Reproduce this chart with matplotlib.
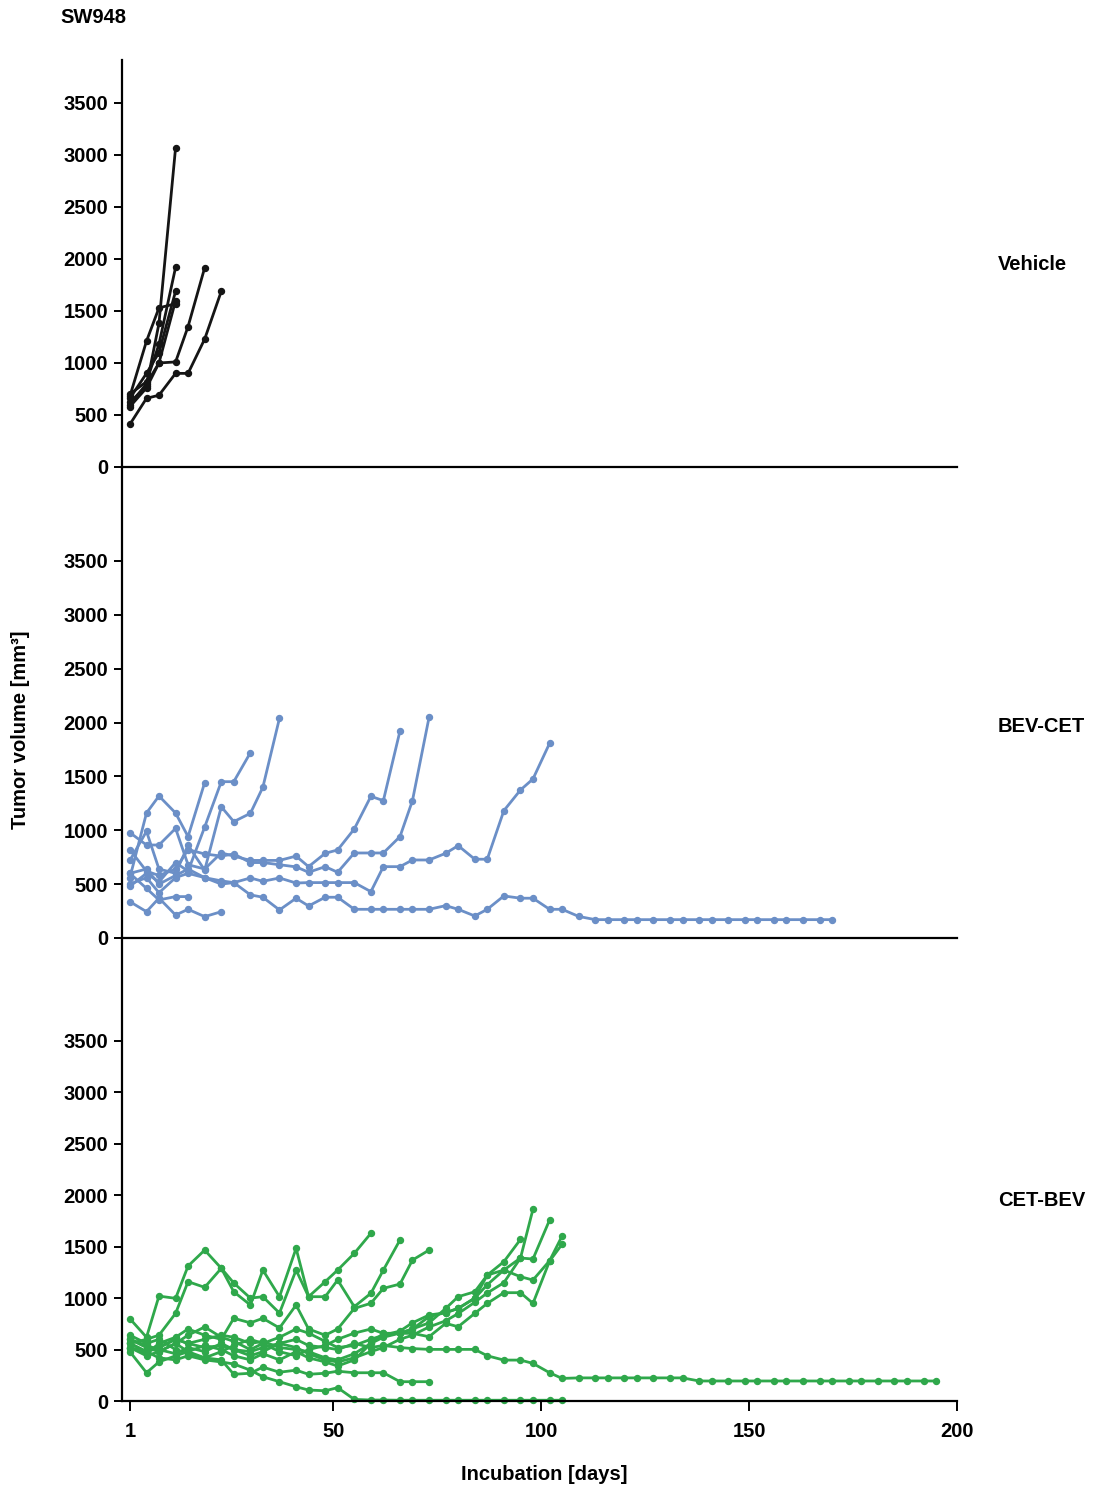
import matplotlib
matplotlib.use("Agg")
import matplotlib.pyplot as plt

plt.rcParams['font.family'] = ['Liberation Sans', 'DejaVu Sans']
plt.rcParams['font.weight'] = 'bold'

# sampling days (measurements roughly twice a week)
days = [1, 5, 8, 12, 15, 19, 23, 26, 30, 33, 37, 41, 44, 48, 51, 55, 59, 62, 66, 69,
        73, 77, 80, 84, 87, 91, 95, 98, 102, 105, 109, 113, 116, 120, 123, 127, 131, 134,
        138, 141, 145, 149, 152, 156, 159, 163, 167, 170, 174, 177, 181, 185, 188, 192, 195]

x_ticks = [1, 50, 100, 150, 200]
y_ticks = [0, 500, 1000, 1500, 2000, 2500, 3000, 3500]
panel_names = ["Vehicle", "BEV-CET", "CET-BEV"]

# Vehicle group
vehicle = [
    [620, 780, 1380, 3070],
    [680, 1210, 1530, 1570],
    [700, 820, 1180, 1920],
    [660, 900, 1100, 1690],
    [580, 760, 1000, 1600],
    [600, 800, 1000, 1010, 1350, 1916],
    [410, 660, 690, 900, 900, 1230, 1690],
]

# BEV-CET group
bev_cet = [
    [560, 1160, 1318, 1160, 941, 1442],
    [480, 600, 520, 700, 620, 1030, 1451, 1451, 1720],
    [720, 990, 640, 600, 860, 630, 1218, 1080, 1157, 1399, 2040],
    [978, 863, 863, 1017, 680, 640, 790, 760, 720, 720, 720, 760, 662, 786, 817, 1012,
     1315, 1275, 1922],
    [820, 620, 580, 640, 820, 780, 760, 780, 700, 700, 680, 660, 610, 662, 610, 789, 789,
     789, 941, 1275, 2049],
    [600, 640, 500, 580, 640, 560, 500, 514, 557, 526, 557, 510, 514, 514, 514, 514, 430,
     662, 662, 724, 724, 786, 857, 731, 731, 1182, 1374, 1476, 1807],
    [500, 560, 420, 560, 600, 560, 530, 514, 400, 378, 260, 369, 297, 378, 378, 266, 266,
     266, 266, 266, 266, 300, 266, 204, 266, 390, 369, 369, 266, 266, 200, 170, 170, 170,
     170, 170, 170, 170, 170, 170, 170, 170, 170, 170, 170, 170, 170, 170],
    [337, 244, 370, 213, 266, 198, 244],
    [600, 460, 353, 384, 384],
]

# CET-BEV group
cet_bev = [
    [800, 620, 1020, 998, 1312, 1467, 1290, 1062, 933, 1273, 1014, 1484, 1014, 1160, 1273,
     1435, 1630],
    [560, 600, 640, 852, 1160, 1105, 1290, 1147, 1000, 1014, 855, 1273, 1014, 1014, 1176,
     917, 1047, 1273, 1565],
    [520, 460, 560, 620, 700, 640, 600, 804, 760, 804, 710, 933, 700, 640, 700, 900, 950,
     1095, 1137, 1370, 1467],
    [560, 480, 520, 600, 560, 600, 640, 620, 560, 580, 520, 500, 480, 420, 400, 460, 560,
     620, 660, 700, 820, 860, 900, 1000, 1130, 1273, 1390, 1863],
    [600, 540, 500, 460, 520, 480, 560, 500, 440, 480, 560, 520, 460, 400, 380, 420, 480,
     520, 600, 640, 720, 780, 850, 960, 1050, 1150, 1390, 1380, 1759],
    [520, 440, 480, 560, 640, 720, 620, 580, 500, 560, 620, 700, 660, 580, 520, 540, 600,
     640, 680, 760, 836, 858, 900, 1000, 1224, 1273, 1208, 1176, 1363, 1603],
    [480, 275, 380, 440, 480, 540, 500, 440, 400, 460, 400, 480, 420, 380, 340, 400, 560,
     658, 658, 658, 625, 755, 722, 852, 949, 1053, 1053, 949, 1360, 1523],
    [640, 560, 600, 500, 460, 420, 480, 540, 600, 560, 480, 440, 500, 540, 600, 660, 700,
     658, 658, 700, 760, 900, 1014, 1062, 1224, 1354, 1571],
    [560, 480, 520, 600, 560, 520, 540, 500, 480, 520, 560, 600, 540, 520, 500, 560, 520,
     540, 520, 510, 502, 502, 502, 502, 440, 398, 398, 366, 275, 220, 225, 225, 225, 225,
     225, 225, 225, 225, 195, 195, 195, 195, 195, 195, 195, 195, 195, 195, 195, 195, 195,
     195, 195, 195, 195],
    [520, 480, 420, 400, 440, 400, 380, 360, 300, 236, 188, 139, 107, 100, 130, 16, 10, 10,
     8, 8, 8, 8, 8, 8, 8, 8, 8, 8, 8, 8],
    [600, 520, 480, 560, 480, 420, 400, 260, 270, 330, 280, 300, 260, 270, 290, 275, 275,
     275, 188, 188, 188],
]

groups = [vehicle, bev_cet, cet_bev]
colors = ["#151515", "#6b8fc7", "#2fa84b"]
y_tops = [3913, 4373, 4500]

fig = plt.figure(figsize=(10.96, 14.90), dpi=100)

# panel boxes in figure fractions
left, right = 0.1113, 0.873
bottoms = [0.6866, 0.3705, 0.0597]
tops = [0.9597, 0.6866, 0.3705]

label_y = [0.8228, 0.5121, 0.1946]
fs = 14.5

for i, (group, col) in enumerate(zip(groups, colors)):
    ax = fig.add_axes([left, bottoms[i], right - left, tops[i] - bottoms[i]])
    for vals in group:
        ax.plot(days[:len(vals)], vals, color=col, linewidth=2.0, marker='o',
                markersize=4.3, solid_joinstyle='round', clip_on=False)
    ax.set_xlim(-0.9, 200)
    ax.set_ylim(0, y_tops[i])
    ax.set_yticks(y_ticks)
    ax.set_yticklabels([str(v) for v in y_ticks], fontsize=fs, fontweight='bold')
    ax.tick_params(axis='y', direction='out', length=6, width=1.4, pad=4)
    for s in ['top', 'right']:
        ax.spines[s].set_visible(False)
    ax.spines['left'].set_linewidth(1.6)
    ax.spines['bottom'].set_linewidth(1.6)
    if i < 2:
        ax.set_xticks([])
    else:
        ax.set_xticks(x_ticks)
        ax.set_xticklabels([str(v) for v in x_ticks], fontsize=fs, fontweight='bold')
        ax.tick_params(axis='x', direction='out', length=7, width=1.4, pad=8)
    ax.patch.set_alpha(0)
    fig.text(0.9106, label_y[i], panel_names[i], fontsize=fs, fontweight='bold',
             ha='left', va='center')

fig.text(0.0547, 0.988, "SW948", fontsize=fs, fontweight='bold', ha='left', va='center')
fig.text(0.019, 0.51, "Tumor volume [mm³]", fontsize=fs, fontweight='bold',
         rotation=90, ha='center', va='center')
fig.text(0.497, 0.0101, "Incubation [days]", fontsize=fs, fontweight='bold',
         ha='center', va='center')

fig.savefig("out.png", dpi=100)
